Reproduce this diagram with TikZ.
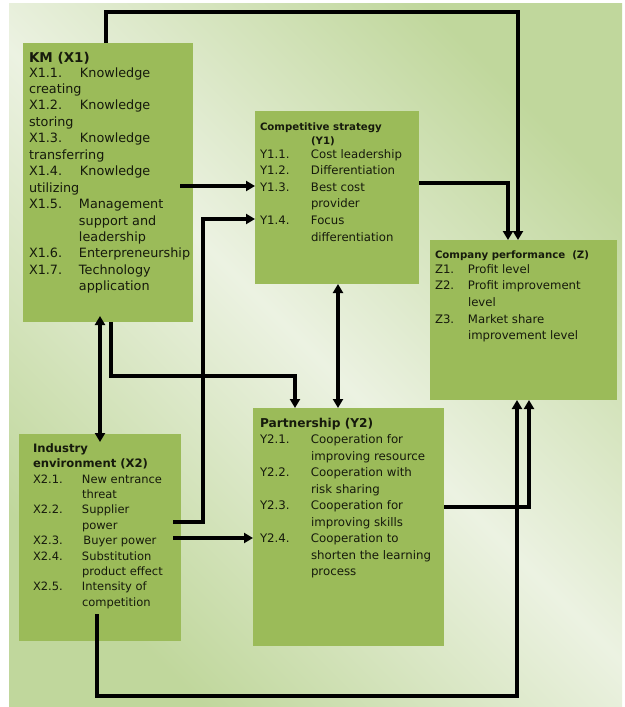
\documentclass[tikz,border=0pt]{standalone}
\usepackage{fontspec}
\setmainfont{DejaVu Sans}
\usetikzlibrary{arrows.meta,calc}
\definecolor{boxgreen}{RGB}{155,187,89}
\definecolor{bglight}{RGB}{236,242,226}
\definecolor{bggreen}{RGB}{192,215,156}
\definecolor{ink}{RGB}{22,26,12}
\newcommand\itemlab[2]{\makebox[#1][l]{#2}}
\begin{document}
\begin{tikzpicture}[x=1pt,y=-1pt,
  box/.style={fill=boxgreen, draw=none, anchor=north west, inner sep=0pt, outer sep=0pt},
  txt/.style={anchor=base west, inner sep=0pt, outer sep=0pt, text=ink},
  conn/.style={line width=3.2pt, draw=black, -{Triangle[length=9pt,width=10pt]}},
  conntwo/.style={line width=3.2pt, draw=black, {Triangle[length=9pt,width=10pt]}-{Triangle[length=9pt,width=10pt]}}]
\useasboundingbox (0,0) rectangle (624,707);
\fill[white] (0,0) rectangle (624,707);
\shade[top color=bggreen, bottom color=bggreen, middle color=bglight, shading angle=-45] (9,3) rectangle (622,707);

% boxes
\node[box, minimum width=170pt, minimum height=279pt] (km) at (23,43) {};
\node[box, minimum width=164pt, minimum height=173pt] (y1) at (255,111) {};
\node[box, minimum width=187pt, minimum height=160pt] (z) at (430,240) {};
\node[box, minimum width=162pt, minimum height=207pt] (x2) at (19,434) {};
\node[box, minimum width=191pt, minimum height=238pt] (y2) at (253,408) {};

% texts
\node[txt] (kmt) at (29,62) {\parbox[t]{200pt}{\fontsize{12.8}{16.45}\selectfont
{\fontsize{13.5}{16}\selectfont\bfseries KM (X1)}\\[-1.45pt]
\itemlab{51pt}{X1.1.}Knowledge\\
creating\\
\itemlab{51pt}{X1.2.}Knowledge\\
storing\\
\itemlab{51pt}{X1.3.}Knowledge\\
transferring\\
\itemlab{51pt}{X1.4.}Knowledge\\
utilizing\\
\itemlab{50pt}{X1.5.}Management\\
\hspace*{50pt}support and\\
\hspace*{50pt}leadership\\
\itemlab{50pt}{X1.6.}Enterpreneurship\\
\itemlab{50pt}{X1.7.}Technology\\
\hspace*{50pt}application}};

\node[txt] (y1t) at (260,130) {\parbox[t]{200pt}{\fontsize{11.7}{16.6}\selectfont
{\fontsize{10.2}{14}\selectfont\bfseries Competitive strategy}\\[-2.6pt]
\hspace*{51pt}{\fontsize{10.2}{14}\selectfont\bfseries (Y1)}\\[-2.6pt]
\itemlab{51pt}{Y1.1.}Cost leadership\\
\itemlab{51pt}{Y1.2.}Differentiation\\
\itemlab{51pt}{Y1.3.}Best cost\\
\hspace*{51pt}provider\\
\itemlab{51pt}{Y1.4.}Focus\\
\hspace*{51pt}differentiation}};

\node[txt] (zt) at (435,258) {\parbox[t]{200pt}{\fontsize{11.7}{16.7}\selectfont
{\fontsize{10.2}{14}\selectfont\bfseries Company performance\ \ (Z)}\\[-1.7pt]
\itemlab{33pt}{Z1.}Profit level\\
\itemlab{33pt}{Z2.}Profit improvement\\
\hspace*{33pt}level\\
\itemlab{33pt}{Z3.}Market share\\
\hspace*{33pt}improvement level}};

\node[txt] (x2t) at (33,452.5) {\parbox[t]{200pt}{\fontsize{11.5}{15.4}\selectfont
{\fontsize{11.6}{15}\selectfont\bfseries Industry}\\[-0.4pt]
{\fontsize{11.6}{15}\selectfont\bfseries environment (X2)}\\[0.1pt]
\itemlab{49pt}{X2.1.}New entrance\\
\hspace*{49pt}threat\\
\itemlab{49pt}{X2.2.}Supplier\\
\hspace*{49pt}power\\
\itemlab{49pt}{X2.3.}\hspace{1.5pt}Buyer power\\
\itemlab{49pt}{X2.4.}Substitution\\
\hspace*{49pt}product effect\\
\itemlab{49pt}{X2.5.}Intensity of\\
\hspace*{49pt}competition}};

\node[txt] (y2t) at (260,427.5) {\parbox[t]{200pt}{\fontsize{11.8}{16.5}\selectfont
{\fontsize{12.2}{15}\selectfont\bfseries Partnership (Y2)}\\[-0.5pt]
\itemlab{51pt}{Y2.1.}Cooperation for\\
\hspace*{51pt}improving resource\\
\itemlab{51pt}{Y2.2.}Cooperation with\\
\hspace*{51pt}risk sharing\\
\itemlab{51pt}{Y2.3.}Cooperation for\\
\hspace*{51pt}improving skills\\
\itemlab{51pt}{Y2.4.}Cooperation to\\
\hspace*{51pt}shorten the learning\\
\hspace*{51pt}process}};

% connectors
\coordinate (b1) at (106,12);
\coordinate (b2) at (518,12);
\draw[conn] (km.north -| b1) -- (b1) -- (b2) -- (b2 |- z.north);

\coordinate (h1) at (180,186);
\draw[conn] (h1) -- (h1 -| y1.west);

\coordinate (s1) at (173,522);
\coordinate (s2) at (203,219);
\draw[conn] (s1) -| (s2) -- (s2 -| y1.west);

\coordinate (s3) at (173,538);
\draw[conn] (s3) -- (s3 -| y2.west);

\coordinate (v1) at (100,380);
\draw[conntwo, shorten <=-6pt, shorten >=-8pt] (km.south -| v1) -- (x2.north -| v1);

\coordinate (k1) at (111,376);
\coordinate (k2) at (295,376);
\draw[conn] (km.south -| k1) -- (k1) -- (k2) -- (k2 |- y2.north);

\coordinate (v2) at (338,340);
\draw[conntwo] (y1.south -| v2) -- (y2.north -| v2);

\coordinate (r1) at (508,183);
\draw[conn] (y1.east |- r1) -- (r1) -- (r1 |- z.north);

\coordinate (r2) at (529,507);
\draw[conn] (y2.east |- r2) -- (r2) -- (r2 |- z.south);

\coordinate (q0) at (97,614);
\coordinate (q1) at (517,696);
\draw[conn] (q0) |- (q1) -- (q1 |- z.south);
\end{tikzpicture}
\end{document}
